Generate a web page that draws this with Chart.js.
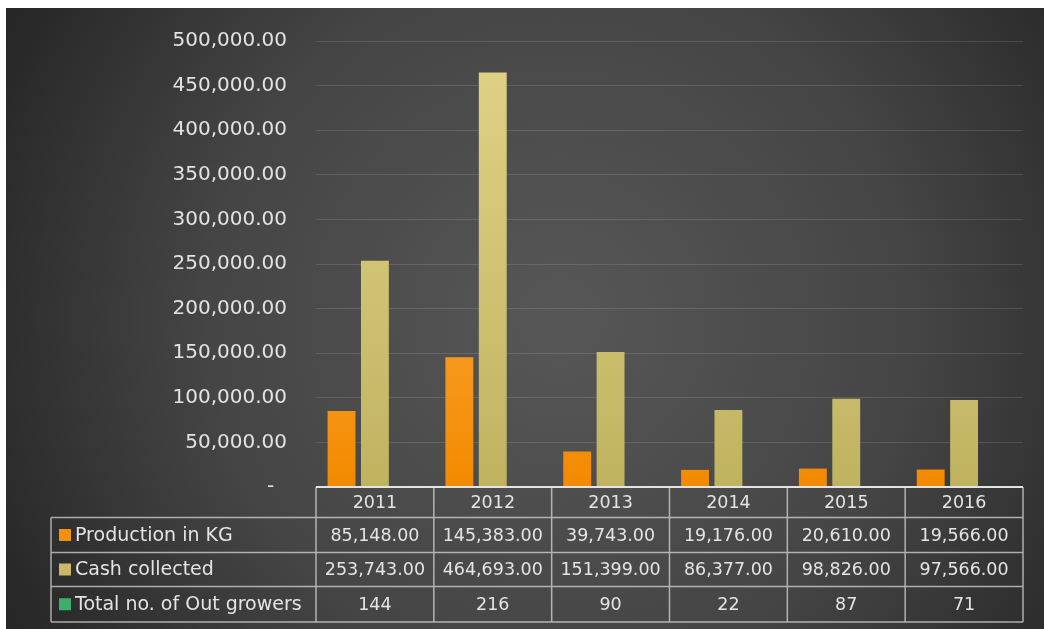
<!DOCTYPE html>
<html>
<head>
<meta charset="utf-8">
<script src="https://cdn.jsdelivr.net/npm/chart.js@4.4.0/dist/chart.umd.min.js"></script>
<style>
html, body { margin: 0; padding: 0; background: #fff; }
</style>
</head>
<body>
<canvas id="growers-chart" width="1044" height="629"></canvas>
<script>
let years = ['2011', '2012', '2013', '2014', '2015', '2016'];
let production = [85148, 145383, 39743, 19176, 20610, 19566];
let cash = [253743, 464693, 151399, 86377, 98826, 97566];
let growers = [144, 216, 90, 22, 87, 71];
let seriesNames = ['Production in KG', 'Cash collected', 'Total no. of Out growers'];
let keyColors = ['#f5900f', '#c9ba6b', '#3fae6a'];

let fmt = new Intl.NumberFormat('en-US', { minimumFractionDigits: 2, maximumFractionDigits: 2 });
let fontName = '"DejaVu Sans", sans-serif';

function vGrad(ctx, area, top, bottom) {
    if (!area) return top;
    let g = ctx.createLinearGradient(0, area.top, 0, area.bottom);
    g.addColorStop(0, top);
    g.addColorStop(1, bottom);
    return g;
}

let backdrop = {
    id: 'backdrop',
    beforeDraw(chart) {
        let c = chart.ctx;
        c.save();
        c.fillStyle = '#fff';
        c.fillRect(0, 0, chart.width, chart.height);
        let g = c.createRadialGradient(560, 320, 20, 560, 320, 620);
        g.addColorStop(0, '#565656');
        g.addColorStop(0.55, '#454545');
        g.addColorStop(1, '#272727');
        c.fillStyle = g;
        c.fillRect(6, 8, 1038, 621);
        c.restore();
    }
};

// data table under the plot, same look as the excel one
let dataTable = {
    id: 'dataTable',
    afterDraw(chart) {
        let c = chart.ctx;
        let x = chart.scales.x;
        let area = chart.chartArea;
        let colW = (area.right - area.left) / years.length;
        let top = area.bottom;
        let rows = [top, top + 30.5, top + 65.5, top + 99.5, top + 135];
        let legLeft = 51;
        let rowData = [production, cash, growers];

        c.save();
        c.lineWidth = 1.5;
        c.strokeStyle = 'rgba(215,215,215,0.75)';
        c.beginPath();
        c.moveTo(area.left, rows[0]); c.lineTo(area.right, rows[0]);
        for (let i = 1; i < rows.length; i++) {
            c.moveTo(legLeft, rows[i]); c.lineTo(area.right, rows[i]);
        }
        for (let i = 0; i <= years.length; i++) {
            let px = area.left + i * colW;
            c.moveTo(px, rows[0]); c.lineTo(px, rows[4]);
        }
        c.moveTo(legLeft, rows[1]); c.lineTo(legLeft, rows[4]);
        c.stroke();

        c.strokeStyle = 'rgba(235,235,235,0.9)';
        c.lineWidth = 2;
        c.beginPath();
        c.moveTo(area.left, rows[0]); c.lineTo(area.right, rows[0]);
        c.stroke();

        c.fillStyle = '#e4e4e4';
        c.font = '17.5px ' + fontName;
        c.textAlign = 'center';
        c.textBaseline = 'middle';
        years.forEach((yr, i) => {
            let cx = x.getPixelForValue(i);
            c.fillText(yr, cx, (rows[0] + rows[1]) / 2 + 1);
            rowData.forEach((vals, r) => {
                let txt = r < 2 ? fmt.format(vals[i]) : String(vals[i]);
                c.fillText(txt, cx, (rows[r + 1] + rows[r + 2]) / 2 + 1);
            });
        });

        c.textAlign = 'left';
        c.font = '19px ' + fontName;
        seriesNames.forEach((name, r) => {
            let cy = (rows[r + 1] + rows[r + 2]) / 2;
            c.fillStyle = keyColors[r];
            c.fillRect(59, cy - 6, 12, 12);
            c.fillStyle = '#e4e4e4';
            c.fillText(name, 75, cy + 1);
        });
        c.restore();
    }
};

let growersData = {
    labels: years,
    datasets: [{
        label: seriesNames[0],
        data: production,
        backgroundColor: ctx => vGrad(ctx.chart.ctx, ctx.chart.chartArea, '#ffbb66', '#f38a00')
    }, {
        label: seriesNames[1],
        data: cash,
        backgroundColor: ctx => vGrad(ctx.chart.ctx, ctx.chart.chartArea, '#e0d386', '#c0b360')
    }, {
        label: seriesNames[2],
        data: growers,
        backgroundColor: keyColors[2]
    }]
};

let growersConfig = {
    type: 'bar',
    data: growersData,
    options: {
        responsive: false,
        animation: false,
        categoryPercentage: 0.85,
        barPercentage: 0.835,
        layout: { padding: { top: 36, right: 21, bottom: 0, left: 0 } },
        plugins: {
            legend: { display: false },
            tooltip: { enabled: false }
        },
        scales: {
            x: {
                ticks: { display: false },
                grid: { display: false },
                border: { display: false },
                afterFit(scale) { scale.height = 142; }
            },
            y: {
                min: 0,
                max: 500000,
                ticks: {
                    stepSize: 50000,
                    padding: 29,
                    color: '#e2e2e2',
                    font: { family: fontName, size: 20 },
                    callback: v => v === 0 ? '-  ' : fmt.format(v)
                },
                grid: { color: 'rgba(255,255,255,0.12)', drawTicks: false },
                border: { display: false },
                afterFit(scale) { scale.width = 316; }
            }
        }
    },
    plugins: [backdrop, dataTable]
};

let growersChart = new Chart(
    document.getElementById('growers-chart'),
    growersConfig
);
</script>
</body>
</html>
